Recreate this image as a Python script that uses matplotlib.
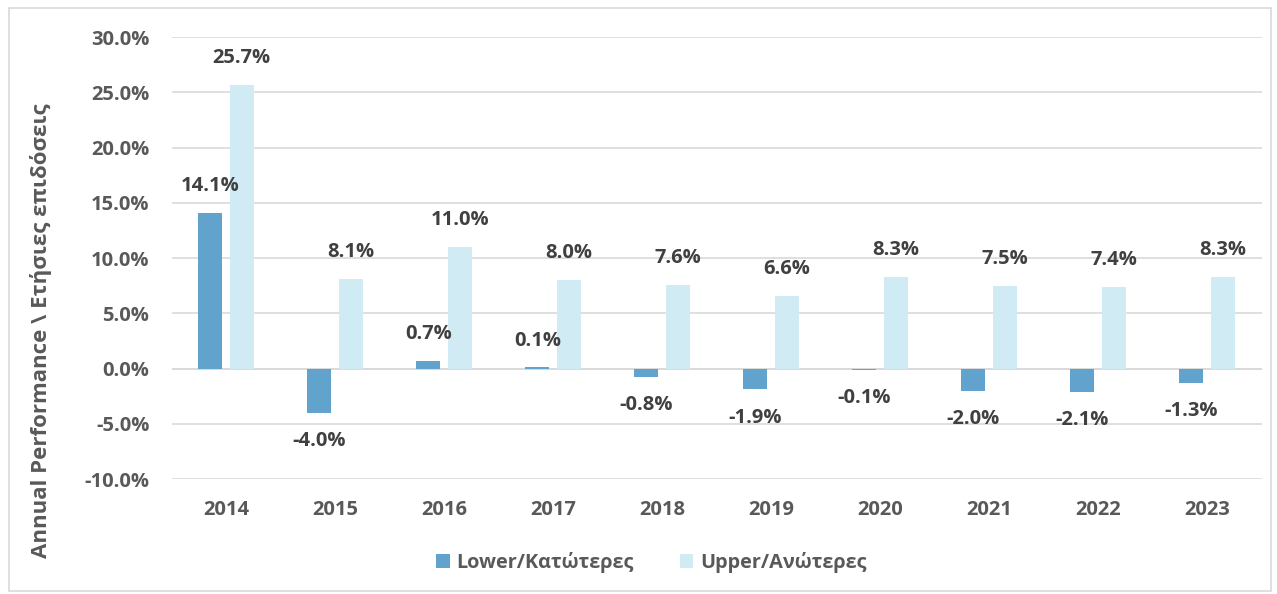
import numpy as np
import matplotlib.pyplot as plt
from matplotlib.patches import Rectangle

years = ['2014', '2015', '2016', '2017', '2018', '2019', '2020', '2021', '2022', '2023']
lower = [14.1, -4.0, 0.7, 0.1, -0.8, -1.9, -0.1, -2.0, -2.1, -1.3]
upper = [25.7, 8.1, 11.0, 8.0, 7.6, 6.6, 8.3, 7.5, 7.4, 8.3]
series_names = ['Lower/Κατώτερες', 'Upper/Ανώτερες']
yticks = [-10, -5, 0, 5, 10, 15, 20, 25, 30]

c_lower = '#62a3cd'
c_upper = '#d0ebf4'
txt = '#404040'
tick_c = '#595959'
fam = ['Open Sans', 'DejaVu Sans']
plt.rcParams['font.family'] = fam
plt.rcParams['font.weight'] = 'bold'

fig = plt.figure(figsize=(12.77, 5.94), dpi=100)
fig.patches.append(Rectangle((0.007, 0.005), 0.988, 0.982, transform=fig.transFigure,
                             fill=False, edgecolor='#d9d9d9', linewidth=1.2))
ax = fig.add_axes([0.1343, 0.1936, 0.8536, 0.7441])

x = np.arange(len(years))
w = 0.22
off = 0.143
b1 = ax.bar(x - off, lower, w, color=c_lower, label=series_names[0], zorder=3)
b2 = ax.bar(x + off, upper, w, color=c_upper, label=series_names[1], zorder=3)

for bars, vals in ((b1, lower), (b2, upper)):
    for b, v in zip(bars, vals):
        xc = b.get_x() + b.get_width() / 2
        if v >= 0:
            ax.annotate(f'{v:.1f}%', (xc, v), xytext=(0, 12), textcoords='offset points',
                        ha='center', va='bottom', fontsize=14.5, fontweight='bold', color=txt)
        else:
            ax.annotate(f'{v:.1f}%', (xc, v), xytext=(0, -13), textcoords='offset points',
                        ha='center', va='top', fontsize=14.5, fontweight='bold', color=txt)

ax.set_xlim(-0.5, len(years) - 0.5)
ax.set_ylim(-10, 30)
ax.set_yticks(yticks)
ax.set_yticklabels([f'{t:.1f}%' for t in yticks])
ax.set_xticks(x)
ax.set_xticklabels(years)
ax.tick_params(axis='both', length=0, labelsize=14.5, labelcolor=tick_c)
ax.tick_params(axis='y', pad=16)
ax.tick_params(axis='x', pad=15)
ax.grid(axis='y', color='#d9d9d9', linewidth=1.2, zorder=0)
ax.axhline(0, color='#d9d9d9', linewidth=1.2, zorder=1)
for s in ax.spines.values():
    s.set_visible(False)

fig.text(0.032, 0.444, 'Annual Performance \\ Ετήσιες επιδόσεις', rotation=90,
         ha='center', va='center', fontsize=16, fontweight='bold', color=tick_c)

fig.legend(loc='center', bbox_to_anchor=(0.51, 0.053), ncol=2, frameon=False,
           fontsize=14.3, handlelength=0.7, handleheight=0.7, handletextpad=0.35,
           columnspacing=2.3, labelcolor=tick_c)

fig.savefig('out.png', dpi=100)
